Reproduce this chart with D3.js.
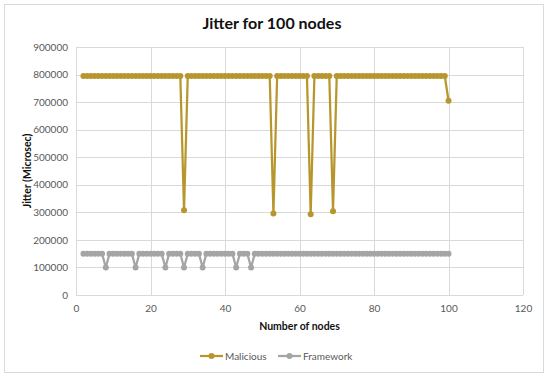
<!DOCTYPE html>
<html>
<head>
<meta charset="utf-8">
<script src="https://cdn.jsdelivr.net/npm/d3@7"></script>
<style>
  body { margin: 0; background: #fff; }
  text { font-family: Lato, "Open Sans", sans-serif; }
</style>
</head>
<body>
<script>
const width = 550
const height = 378
const margin = { top: 47, right: 27, bottom: 83, left: 76 }

// x values (number of nodes)
const nodes = [
  2, 3, 4, 5, 6, 7, 8, 9, 10, 11,
  12, 13, 14, 15, 16, 17, 18, 19, 20, 21,
  22, 23, 24, 25, 26, 27, 28, 29, 30, 31,
  32, 33, 34, 35, 36, 37, 38, 39, 40, 41,
  42, 43, 44, 45, 46, 47, 48, 49, 50, 51,
  52, 53, 54, 55, 56, 57, 58, 59, 60, 61,
  62, 63, 64, 65, 66, 67, 68, 69, 70, 71,
  72, 73, 74, 75, 76, 77, 78, 79, 80, 81,
  82, 83, 84, 85, 86, 87, 88, 89, 90, 91,
  92, 93, 94, 95, 96, 97, 98, 99, 100
]

const malicious = [
  795000, 795000, 795000, 795000, 795000, 795000, 795000, 795000, 795000, 795000,
  795000, 795000, 795000, 795000, 795000, 795000, 795000, 795000, 795000, 795000,
  795000, 795000, 795000, 795000, 795000, 795000, 795000, 308000, 795000, 795000,
  795000, 795000, 795000, 795000, 795000, 795000, 795000, 795000, 795000, 795000,
  795000, 795000, 795000, 795000, 795000, 795000, 795000, 795000, 795000, 795000,
  795000, 296000, 795000, 795000, 795000, 795000, 795000, 795000, 795000, 795000,
  795000, 293000, 795000, 795000, 795000, 795000, 795000, 304000, 795000, 795000,
  795000, 795000, 795000, 795000, 795000, 795000, 795000, 795000, 795000, 795000,
  795000, 795000, 795000, 795000, 795000, 795000, 795000, 795000, 795000, 795000,
  795000, 795000, 795000, 795000, 795000, 795000, 795000, 795000, 705000
]

const framework = [
  150000, 150000, 150000, 150000, 150000, 150000, 100000, 150000, 150000, 150000,
  150000, 150000, 150000, 150000, 100000, 150000, 150000, 150000, 150000, 150000,
  150000, 150000, 100000, 150000, 150000, 150000, 150000, 100000, 150000, 150000,
  150000, 150000, 100000, 150000, 150000, 150000, 150000, 150000, 150000, 150000,
  150000, 100000, 150000, 150000, 150000, 100000, 150000, 150000, 150000, 150000,
  150000, 150000, 150000, 150000, 150000, 150000, 150000, 150000, 150000, 150000,
  150000, 150000, 150000, 150000, 150000, 150000, 150000, 150000, 150000, 150000,
  150000, 150000, 150000, 150000, 150000, 150000, 150000, 150000, 150000, 150000,
  150000, 150000, 150000, 150000, 150000, 150000, 150000, 150000, 150000, 150000,
  150000, 150000, 150000, 150000, 150000, 150000, 150000, 150000, 150000
]

const xTicks = [0, 20, 40, 60, 80, 100, 120]
const yTicks = [0, 100000, 200000, 300000, 400000, 500000, 600000, 700000, 800000, 900000]

const series = [
  { name: 'Malicious', values: malicious, color: '#B8962E' },
  { name: 'Framework', values: framework, color: '#A5A5A5' }
]

const svg = d3.select('body')
  .append('svg')
  .attr('width', width)
  .attr('height', height)

// chart border
svg.append('rect')
  .attr('x', 4.5)
  .attr('y', 4.5)
  .attr('width', 539)
  .attr('height', 368)
  .attr('fill', 'white')
  .attr('stroke', '#D9D9D9')

const xScale = d3.scaleLinear()
  .domain([0, 120])
  .range([margin.left, width - margin.right])
const yScale = d3.scaleLinear()
  .domain([0, 900000])
  .range([height - margin.bottom, margin.top])

// grid
const grid = svg.append('g')
grid.selectAll('.hg')
  .data(yTicks)
  .enter()
  .append('line')
  .attr('x1', xScale(0))
  .attr('x2', xScale(120))
  .attr('y1', d => Math.round(yScale(d)) + 0.5)
  .attr('y2', d => Math.round(yScale(d)) + 0.5)
  .attr('stroke', '#D9D9D9')
grid.selectAll('.vg')
  .data(xTicks)
  .enter()
  .append('line')
  .attr('x1', d => Math.round(xScale(d)) + 0.5)
  .attr('x2', d => Math.round(xScale(d)) + 0.5)
  .attr('y1', yScale(0))
  .attr('y2', yScale(900000))
  .attr('stroke', '#D9D9D9')

// axes, labels only
const xAxis = d3.axisBottom(xScale).tickValues(xTicks).tickSize(0).tickPadding(10)
const yAxis = d3.axisLeft(yScale).tickValues(yTicks).tickSize(0).tickPadding(8).tickFormat(d3.format('d'))

const gx = svg.append('g')
  .attr('transform', 'translate(0, ' + yScale(0) + ')')
  .call(xAxis)
const gy = svg.append('g')
  .attr('transform', 'translate(' + xScale(0) + ', 0)')
  .call(yAxis)
;[gx, gy].forEach(g => {
  g.select('.domain').remove()
  g.selectAll('text')
    .attr('fill', '#595959')
    .style('font-size', '10px')
    .style('font-family', 'Lato, sans-serif')
})

// series
const line = d3.line()
  .x((d, i) => xScale(nodes[i]))
  .y(d => yScale(d))

series.forEach(s => {
  const g = svg.append('g')
  g.append('path')
    .datum(s.values)
    .attr('d', line)
    .attr('fill', 'none')
    .attr('stroke', s.color)
    .attr('stroke-width', 2.25)
    .attr('stroke-linejoin', 'round')
  g.selectAll('circle')
    .data(s.values)
    .enter()
    .append('circle')
    .attr('cx', (d, i) => xScale(nodes[i]))
    .attr('cy', d => yScale(d))
    .attr('r', 3)
    .attr('fill', s.color)
})

// titles
svg.append('text')
  .attr('x', 272)
  .attr('y', 29)
  .attr('text-anchor', 'middle')
  .style('font-size', '16px')
  .style('font-weight', 'bold')
  .attr('fill', '#111')
  .text('Jitter for 100 nodes')

svg.append('text')
  .attr('x', (xScale(0) + xScale(120)) / 2)
  .attr('y', 330)
  .attr('text-anchor', 'middle')
  .style('font-size', '10.5px')
  .style('font-weight', 'bold')
  .attr('fill', '#111')
  .text('Number of nodes')

svg.append('text')
  .attr('transform', 'translate(31, ' + (yScale(0) + yScale(900000)) / 2 + ') rotate(-90)')
  .attr('text-anchor', 'middle')
  .style('font-size', '10.5px')
  .style('font-weight', 'bold')
  .attr('fill', '#111')
  .text('Jitter (Microsec)')

// legend
const legendItems = [
  { s: series[0], x: 200 },
  { s: series[1], x: 278 }
]
legendItems.forEach(item => {
  const lg = svg.append('g').attr('transform', 'translate(' + item.x + ', 356)')
  lg.append('line')
    .attr('x1', 0).attr('x2', 23)
    .attr('stroke', item.s.color)
    .attr('stroke-width', 2.25)
  lg.append('circle')
    .attr('cx', 11.5).attr('r', 3)
    .attr('fill', item.s.color)
  lg.append('text')
    .attr('x', 25)
    .attr('dy', '0.35em')
    .style('font-size', '10px')
    .attr('fill', '#595959')
    .text(item.s.name)
})
</script>
</body>
</html>
